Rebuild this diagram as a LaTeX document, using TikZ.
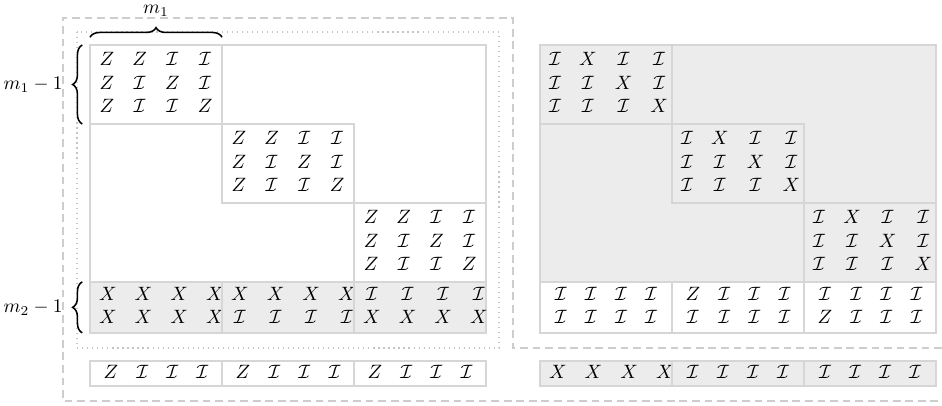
\documentclass[tikz,border=0pt]{standalone}
\usetikzlibrary{decorations.pathreplacing,backgrounds}

\definecolor{cellgray}{HTML}{ECECEC}
\definecolor{edgegray}{HTML}{D6D6D6}
\definecolor{dashgray}{HTML}{CDCDCD}
\definecolor{dotgray}{HTML}{C4C4C4}

\setlength{\arraycolsep}{4.7pt}
\newcommand{\cI}{\mathcal{I}}
% stabiliser blocks
\newcommand{\zmat}{$\begin{array}{cccc}
    Z & Z & \cI & \cI\\
    Z & \cI & Z & \cI\\
    Z & \cI & \cI & Z
\end{array}$}
\newcommand{\xmat}{$\begin{array}{cccc}
    \cI & X & \cI & \cI\\
    \cI & \cI & X & \cI\\
    \cI & \cI & \cI & X
\end{array}$}

\begin{document}
\begin{tikzpicture}[
    x=0.518pt, y=-0.518pt,
    blk/.style={
        draw=edgegray,
        line width=0.9pt,
        anchor=north west,
        inner sep=0pt,
        outer sep=0pt,
        text width=68.4pt,
        align=center
    },
    zblk/.style={blk, minimum height=40.9pt},
    rblk/.style={blk, minimum height=26.4pt},
    lblk/.style={blk, minimum height=13pt},
    frm/.style={draw=edgegray, line width=0.9pt},
    brc/.style={decorate, decoration={brace, amplitude=5pt}, thick}
]
    \useasboundingbox (0,0) rectangle (942,405);

    % left half
    \node[zblk] (zA) at (90,45) {\zmat};
    \node[zblk] (zB) at (zA.south east) {\zmat};
    \node[zblk] (zC) at (zB.south east) {\zmat};

    \node[rblk, fill=cellgray] (xA) at (zA.west |- zC.south)
        {$\begin{array}{cccc} X & X & X & X\\ X & X & X & X \end{array}$};
    \node[rblk, fill=cellgray] (xB) at (xA.north east)
        {$\begin{array}{cccc} X & X & X & X\\ \cI & \cI & \cI & \cI \end{array}$};
    \node[rblk, fill=cellgray] (xC) at (xB.north east)
        {$\begin{array}{cccc} \cI & \cI & \cI & \cI\\ X & X & X & X \end{array}$};

    \node[lblk] (lA) at ([yshift=-14.5pt]xA.south west)
        {$\begin{array}{cccc} Z & \cI & \cI & \cI \end{array}$};
    \node[lblk] (lB) at (lA.north east)
        {$\begin{array}{cccc} Z & \cI & \cI & \cI \end{array}$};
    \node[lblk] (lC) at (lB.north east)
        {$\begin{array}{cccc} Z & \cI & \cI & \cI \end{array}$};

    % right half
    \node[zblk, fill=cellgray] (yA) at (540,45) {\xmat};
    \node[zblk, fill=cellgray] (yB) at (yA.south east) {\xmat};
    \node[zblk, fill=cellgray] (yC) at (yB.south east) {\xmat};

    \node[rblk, fill=white] (wA) at (yA.west |- yC.south)
        {$\begin{array}{cccc} \cI & \cI & \cI & \cI\\ \cI & \cI & \cI & \cI \end{array}$};
    \node[rblk, fill=white] (wB) at (wA.north east)
        {$\begin{array}{cccc} Z & \cI & \cI & \cI\\ \cI & \cI & \cI & \cI \end{array}$};
    \node[rblk, fill=white] (wC) at (wB.north east)
        {$\begin{array}{cccc} \cI & \cI & \cI & \cI\\ Z & \cI & \cI & \cI \end{array}$};

    \node[lblk, fill=cellgray] (kA) at ([yshift=-14.5pt]wA.south west)
        {$\begin{array}{cccc} X & X & X & X \end{array}$};
    \node[lblk, fill=cellgray] (kB) at (kA.north east)
        {$\begin{array}{cccc} \cI & \cI & \cI & \cI \end{array}$};
    \node[lblk, fill=cellgray] (kC) at (kB.north east)
        {$\begin{array}{cccc} \cI & \cI & \cI & \cI \end{array}$};

    \begin{scope}[on background layer]
        \draw[frm, fill=white] (zA.north west) rectangle (zC.south east);
        \draw[frm, fill=cellgray] (yA.north west) rectangle (yC.south east);
    \end{scope}

    % outlines
    \draw[dotgray, dotted, line width=0.6pt] (77,32) rectangle (499,348);
    \draw[dashgray, line width=0.6pt, dash pattern=on 4pt off 2.5pt]
        (942,348) -- (513,348) -- (513,18) -- (63,18) -- (63,401) -- (942,401);

    % braces
    \draw[brc] ([yshift=4pt]zA.north west) -- node[above=7pt] {$m_1$}
        ([yshift=4pt]zA.north east);
    \draw[brc] ([xshift=-4pt]zA.south west) -- node[left=6.5pt] {$m_1-1$}
        ([xshift=-4pt]zA.north west);
    \draw[brc] ([xshift=-4pt]xA.south west) -- node[left=6.5pt] {$m_2-1$}
        ([xshift=-4pt]xA.north west);
\end{tikzpicture}
\end{document}
